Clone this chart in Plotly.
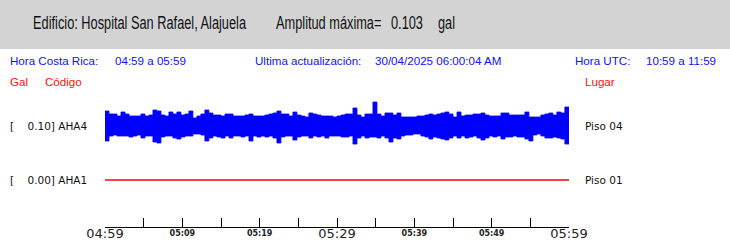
import json
import plotly.graph_objects as go
import pandas as pd

# ---------------- data ----------------
building = "Edificio: Hospital San Rafael, Alajuela"
max_amp_label = "Amplitud máxima="
max_amp_value = "0.103"
max_amp_unit = "gal"
local_time_label = "Hora Costa Rica:"
local_time_span = "04:59 a 05:59"
update_label = "Ultima actualización:"
update_value = "30/04/2025 06:00:04 AM"
utc_label = "Hora UTC:"
utc_span = "10:59 a 11:59"

t_start = "2025-04-30 04:59:00"
t_end = "2025-04-30 05:59:00"

channels = ["AHA4", "AHA1"]
channel_gal = ["0.10", "0.00"]
channel_place = ["Piso 04", "Piso 01"]

# AHA4 envelope (counts; 24 counts = 0.103 gal peak)
aha4_upper = [15, 12, 12, 10, 14, 12, 10, 10, 10, 12, 10, 11, 16, 15, 11, 10, 14, 12, 14, 11,
              12, 15, 8, 10, 12, 16, 13, 11, 11,
              10, 12, 12, 10, 10, 10, 11, 12, 10, 10, 10, 11, 12, 13, 15, 12, 12, 10, 14, 11,
              10, 9, 13, 12, 11, 10, 10, 10, 9,
              10, 11, 12, 12, 18, 11, 9, 12, 12, 24, 12, 10, 13, 13, 11, 13, 9, 9, 9, 9,
              10, 10, 11, 12, 11, 12, 13, 14, 12,
              9, 14, 10, 11, 11, 12, 12, 13, 11, 10, 10, 10, 13, 13, 11, 11, 11, 11, 14, 9,
              9, 9, 11, 12, 13, 11, 14, 13, 19]
aha4_lower = [15, 10, 9, 10, 10, 10, 11, 10, 9, 12, 10, 10, 16, 17, 11, 10, 10, 12, 13, 11,
              10, 10, 8, 8, 9, 15, 12, 10, 11,
              12, 10, 12, 10, 10, 11, 10, 15, 10, 11, 10, 11, 10, 12, 17, 11, 10, 10, 14, 11,
              10, 10, 12, 10, 11, 10, 12, 10, 10,
              10, 11, 11, 10, 18, 12, 10, 12, 11, 11, 12, 10, 12, 16, 12, 13, 10, 9, 9, 8,
              8, 10, 11, 13, 11, 12, 13, 14, 12,
              10, 12, 10, 12, 11, 10, 12, 14, 12, 10, 11, 10, 13, 11, 11, 10, 11, 11, 13, 15,
              9, 8, 10, 12, 12, 11, 12, 13, 18]
aha1_values = [0.0, 0.0]

tick_marks = ["04:59", "05:04", "05:09", "05:14", "05:19", "05:24", "05:29",
              "05:34", "05:39", "05:44", "05:49", "05:54", "05:59"]
major_labels = ["04:59", "05:29", "05:59"]
minor_labels = ["05:09", "05:19", "05:39", "05:49"]

# ---------------- layout helpers ----------------
W, H = 730, 247
L, R, T, B = 105, 569, 98, 227
GAL_PER_COUNT = 0.103 / 24.0
s = GAL_PER_COUNT  # gal per pixel vertically


def px(x):
    return (x - L) / (R - L)


def py(y):
    return (B - y) / (B - T)


def ts(hhmm):
    return pd.Timestamp("2025-04-30 " + hhmm + ":00")


t0, t1 = pd.Timestamp(t_start), pd.Timestamp(t_end)
n = len(aha4_upper)
edges = [t0 + (t1 - t0) * i / n for i in range(n + 1)]

off4 = 0.0
off1 = -(180 - 126) * s

xs, ys = [], []
for i in range(n):
    xs += [edges[i], edges[i + 1]]
    ys += [off4 + aha4_upper[i] * GAL_PER_COUNT] * 2
for i in reversed(range(n)):
    xs += [edges[i + 1], edges[i]]
    ys += [off4 - aha4_lower[i] * GAL_PER_COUNT] * 2
xs.append(xs[0])
ys.append(ys[0])

fig = go.Figure()
fig.add_trace(go.Scatter(x=xs, y=ys, mode="lines", fill="toself",
                         fillcolor="#0000ff", line=dict(color="#0000ff", width=0.8),
                         hoverinfo="skip", showlegend=False))
fig.add_trace(go.Scatter(x=[t0, t1], y=[off1 + v for v in aha1_values], mode="lines",
                         line=dict(color="#ff0000", width=1.4), showlegend=False))
fig.add_trace(go.Scatter(x=[t0, t1], y=[off1, off1], xaxis="x2", mode="lines",
                         line=dict(width=0), opacity=0, hoverinfo="skip", showlegend=False))

fig.update_layout(
    width=W, height=H,
    margin=dict(l=L, r=W - R, t=T, b=H - B, pad=0, autoexpand=False),
    paper_bgcolor="white", plot_bgcolor="white",
    xaxis=dict(type="date", range=[t0, t1], automargin=False,
               tickvals=[ts(v) for v in tick_marks],
               ticktext=[v if v in major_labels else "" for v in tick_marks],
               ticks="inside", ticklen=9, tickwidth=1, tickcolor="black",
               showline=True, linecolor="black", linewidth=1,
               showgrid=False, zeroline=False, ticklabelstandoff=-6,
               tickfont=dict(family="DejaVu Sans", size=13, color="#222222")),
    xaxis2=dict(type="date", range=[t0, t1], overlaying="x", anchor="y", side="bottom",
                automargin=False,
                tickvals=[ts(v) for v in minor_labels], ticktext=minor_labels,
                ticks="", showline=False, showgrid=False, zeroline=False,
                tickfont=dict(family="DejaVu Sans", size=8, color="#222222", weight="bold")),
    yaxis=dict(visible=False, automargin=False,
               range=[-(B - 126) * s, (126 - T) * s], fixedrange=True),
)

fig.add_shape(type="rect", xref="paper", yref="paper", x0=px(0), x1=px(W),
              y0=py(49), y1=py(0), fillcolor="#d3d3d3", line=dict(width=0), layer="below")

title_font = dict(family="Liberation Sans, Arial, sans-serif", size=17.5, color="#111111")
blue_font = dict(family="Liberation Sans, Arial, sans-serif", size=11.6, color="#1010ff")
red_font = dict(family="Liberation Sans, Arial, sans-serif", size=11.6, color="#ff1010")
lab_font = dict(family="DejaVu Sans", size=10.5, color="#111111")


def label(x, y, text, font):
    fig.add_annotation(x=px(x), y=py(y), xref="paper", yref="paper", text=text,
                       showarrow=False, xanchor="left", yanchor="middle", font=font,
                       borderpad=0, borderwidth=0)


label(33, 23, building, title_font)
label(276, 23, max_amp_label, title_font)
label(391, 23, max_amp_value, title_font)
label(438, 23, max_amp_unit, title_font)

label(10, 61, local_time_label, blue_font)
label(115, 61, local_time_span, blue_font)
label(255, 61, update_label, blue_font)
label(375, 61, update_value, blue_font)
label(575, 61, utc_label, blue_font)
label(646, 61, utc_span, blue_font)

label(10, 81, "Gal", red_font)
label(45, 81, "Código", red_font)
label(585, 81, "Lugar", red_font)

for name, g, place, yy in zip(channels, channel_gal, channel_place, [126, 180]):
    label(10, yy, "[\u00a0\u00a0\u00a0\u00a0" + g + "]\u00a0" + name, lab_font)
    label(585, yy, place, lab_font)

# the header line uses a condensed face: squeeze those texts horizontally
condensed = [building, max_amp_label, max_amp_value, max_amp_unit]
post = (
    "var want = " + json.dumps(condensed) + ";\n"
    "document.querySelectorAll('.annotation-text').forEach(function(t){\n"
    "  if (want.indexOf(t.textContent) >= 0) {\n"
    "    t.style.transformBox = 'fill-box';\n"
    "    t.style.transformOrigin = '0% 50%';\n"
    "    t.style.transform = 'scaleX(0.73)';\n"
    "  }\n"
    "});\n"
)
fig.write_html("out.html", post_script=post)
